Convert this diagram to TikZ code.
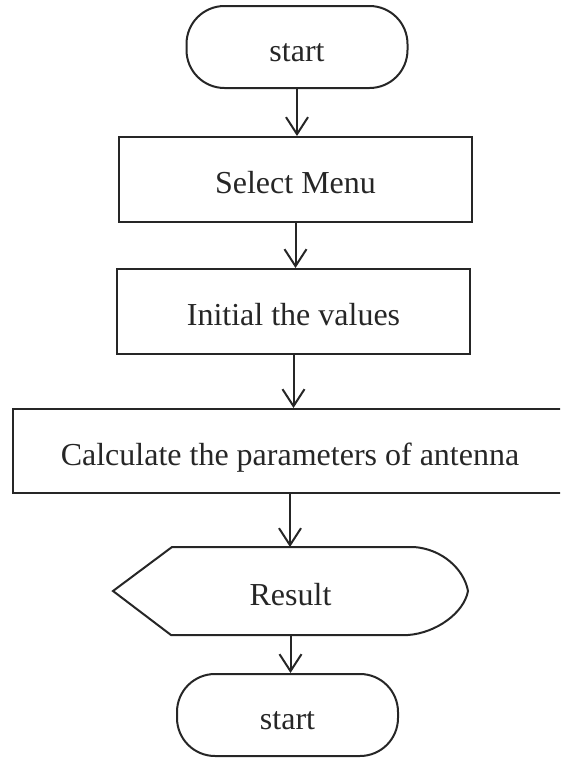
\documentclass[tikz,border=0pt]{standalone}
\usepackage{fontspec}
\setmainfont{Liberation Serif}
\usetikzlibrary{arrows.meta, calc, positioning}
\tikzset
{%
boxtext/.style={text height=28pt, text depth=0pt},
terminal/.style={boxtext, draw, rectangle, rounded corners=38pt, minimum width=221pt, minimum height=82pt},
process/.style={boxtext, draw, rectangle, minimum width=353pt, minimum height=85pt},
display/.style={boxtext, rectangle, minimum width=353pt, minimum height=86pt},
flow/.style={-{Straight Barb[length=17pt, width=22pt]}}
}

\begin{document}
\begin{tikzpicture}[x=1pt, y=-1pt, line width=2pt, color=black!85, font=\fontsize{32}{38}\selectfont]
	\useasboundingbox (0,0) rectangle (560,758);
	\clip (0,0) rectangle (560,758);

	% boxes
	\node[terminal] (begin) at (297,47) {start};
	\node[process, below=47pt of begin, xshift=-1.5pt] (menu) {Select Menu};
	\node[process, below=45pt of menu, xshift=-2pt] (init) {Initial the values};
	\node[process, minimum width=554pt, minimum height=84pt, below=53pt of init, xshift=-3.5pt] (calc) {Calculate the parameters of antenna};
	\node[display, below=53pt of calc, xshift=0.5pt] (res) {Result};
	\node[terminal, below=38pt of res, xshift=-3pt] (finish) {start};

	% display outline round the result
	\draw (res.west) -- ($(res.north west)+(59,0)$) -- ($(res.north east)+(-54,0)$)
		.. controls +(28,2) and +(-4,-22) .. (res.east)
		.. controls +(-4,22) and +(28,-2) .. ($(res.south east)+(-60,0)$)
		-- ($(res.south west)+(58,0)$) -- cycle;

	% arrows
	\draw[flow] (begin.south) -- (begin.south |- menu.north);
	\draw[flow] (menu.south) -- (menu.south |- init.north);
	\draw[flow] (init.south) -- (init.south |- calc.north);
	\draw[flow] (calc.south) -- (calc.south |- res.north);
	\draw[flow] (res.south) -- (res.south |- finish.north);
\end{tikzpicture}
\end{document}
